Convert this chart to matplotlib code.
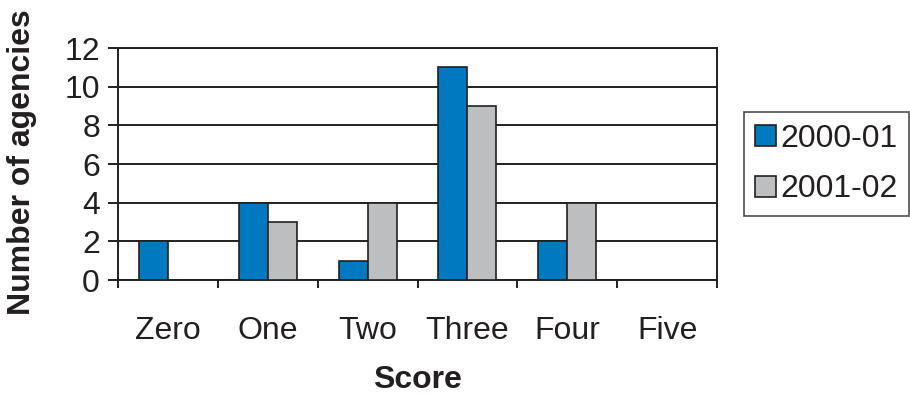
import matplotlib
matplotlib.use("Agg")
import matplotlib.pyplot as plt
import numpy as np

categories = ["Zero", "One", "Two", "Three", "Four", "Five"]
series_names = ["2000-01", "2001-02"]
values_2000 = [2, 4, 1, 11, 2, 0]
values_2001 = [0, 3, 4, 9, 4, 0]
yticks = [0, 2, 4, 6, 8, 10, 12]

plt.rcParams['font.family'] = ['Liberation Sans', 'DejaVu Sans']
dark = "#231f20"
blue = "#0079c1"
grey = "#bcbec0"
fs = 23

fig = plt.figure(figsize=(9.1, 3.95), dpi=100)
ax = fig.add_axes([118/910, 1-280/395, (717-118)/910, (280-48)/395])

x = np.arange(len(categories))
w = 0.29
ax.bar(x - w/2, values_2000, width=w, color=blue, edgecolor=dark, linewidth=1.2, label=series_names[0], zorder=3)
ax.bar(x + w/2, values_2001, width=w, color=grey, edgecolor=dark, linewidth=1.2, label=series_names[1], zorder=3)

ax.set_xlim(-0.5, len(categories) - 0.5)
ax.set_ylim(0, 12)
ax.set_yticks(yticks)
ax.set_yticklabels([str(v) for v in yticks], fontsize=fs)
ax.yaxis.grid(True, color=dark, linewidth=1.4, zorder=0)
ax.set_axisbelow(True)

ax.set_xticks(np.arange(-0.5, len(categories), 1.0))
ax.set_xticklabels([])
ax.set_xticks(x, minor=True)
ax.set_xticklabels(categories, minor=True, fontsize=fs)
ax.tick_params(axis='x', which='major', length=6, width=1.4, color=dark, direction='out')
ax.tick_params(axis='x', which='minor', length=0, pad=26, colors=dark)
ax.tick_params(axis='y', length=7, width=1.4, color=dark, pad=6, labelcolor=dark)

for s in ax.spines.values():
    s.set_color(dark)
    s.set_linewidth(1.4)

fig.text(417/910, 1-380/395, "Score", fontsize=fs, fontweight='bold', ha='center', va='center', color=dark)
fig.text(22/910, 1-162/395, "Number of agencies", fontsize=fs, fontweight='bold', rotation=90, ha='center', va='center', color=dark)

leg = fig.legend(loc='center left', bbox_to_anchor=(744/910, 1-164/395), fontsize=fs,
                 frameon=True, fancybox=False, edgecolor=dark, handlelength=0.65, handleheight=0.65,
                 handletextpad=0.15, labelspacing=0.65, borderpad=0.35, borderaxespad=0)
leg.get_frame().set_linewidth(1.2)
for t in leg.get_texts():
    t.set_color(dark)

fig.savefig("out.png", dpi=100)
